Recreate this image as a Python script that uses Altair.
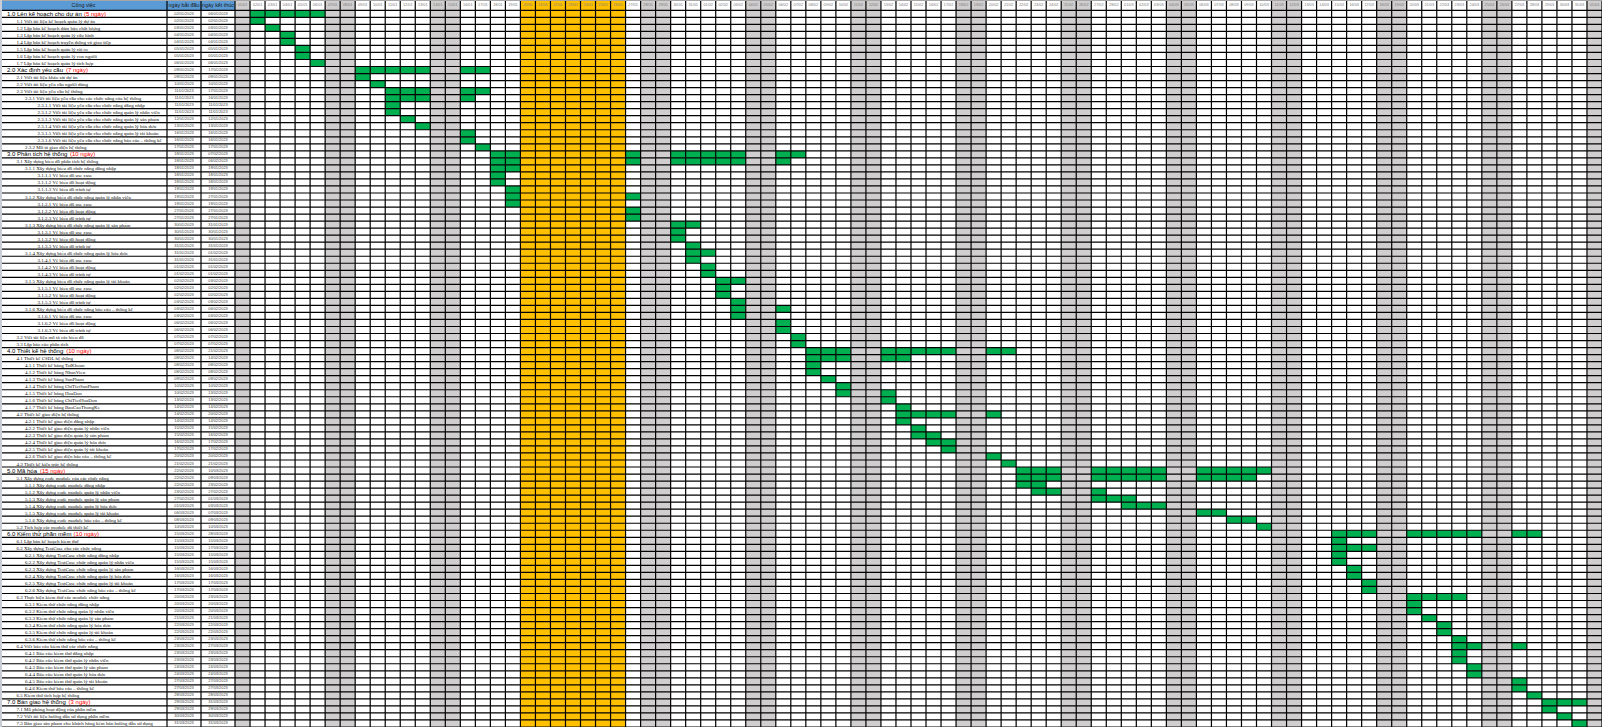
import altair as alt
import pandas as pd
import unicodedata
from datetime import date, timedelta

# ---------------- data ----------------
YEAR = 2023
first_day = "01/01"
n_days = 91
holiday_start = "20/01"
holiday_end = "26/01"

header_labels = ["Công việc", "ngày bắt đầu", "ngày kết thúc"]
phase_durations = ["(5 ngày)", "(7 ngày)", "(10 ngày)", "(10 ngày)", "(15 ngày)", "(10 ngày)", "(3 ngày)"]

phase1 = [
    ("1.0 Lên kế hoạch cho dự án", "02/01", "06/01"),
    ("1.1 Viết tài liệu kế hoạch quản lý dự án", "02/01", "02/01"),
    ("1.2 Lập bản kế hoạch đảm bảo chất lượng", "03/01", "03/01"),
    ("1.3 Lập bản kế hoạch quản lý cấu hình", "04/01", "04/01"),
    ("1.4 Lập bản kế hoạch truyền thông và giao tiếp", "04/01", "04/01"),
    ("1.5 Lập bản kế hoạch quản lý rủi ro", "05/01", "05/01"),
    ("1.6 Lập bản kế hoạch quản lý con người", "05/01", "05/01"),
    ("1.7 Lập bản kế hoạch quản lý tích hợp", "06/01", "06/01"),
]
phase2 = [
    ("2.0 Xác định yêu cầu", "09/01", "17/01"),
    ("2.1 Viết tài liệu khảo sát dự án", "09/01", "09/01"),
    ("2.2 Viết tài liệu yêu cầu người dùng", "10/01", "10/01"),
    ("2.3 Viết tài liệu yêu cầu hệ thống", "11/01", "17/01"),
    ("2.3.1 Viết tài liệu yêu cầu cho các chức năng của hệ thống", "11/01", "16/01"),
    ("2.3.1.1 Viết tài liệu yêu cầu cho chức năng đăng nhập", "11/01", "11/01"),
    ("2.3.1.2 Viết tài liệu yêu cầu cho chức năng quản lý nhân viên", "11/01", "11/01"),
    ("2.3.1.3 Viết tài liệu yêu cầu cho chức năng quản lý sản phẩm", "12/01", "12/01"),
    ("2.3.1.4 Viết tài liệu yêu cầu cho chức năng quản lý hóa đơn", "13/01", "13/01"),
    ("2.3.1.5 Viết tài liệu yêu cầu cho chức năng quản lý tài khoản", "16/01", "16/01"),
    ("2.3.1.6 Viết tài liệu yêu cầu cho chức năng báo cáo – thống kê", "16/01", "16/01"),
    ("2.3.2 Mô tả giao diện hệ thống", "17/01", "17/01"),
]
phase3 = [
    ("3.0 Phân tích hệ thống", "18/01", "07/02"),
    ("3.1 Xây dựng biểu đồ phân tích hệ thống", "18/01", "06/02"),
    ("3.1.1 Xây dựng biểu đồ chức năng đăng nhập", "18/01", "19/01"),
    ("3.1.1.1 Vẽ biểu đồ use case", "18/01", "18/01"),
    ("3.1.1.2 Vẽ biểu đồ hoạt động", "18/01", "18/01"),
    ("3.1.1.3 Vẽ biểu đồ trình tự", "19/01", "19/01"),
    ("3.1.2 Xây dựng biểu đồ chức năng quản lý nhân viên", "19/01", "27/01"),
    ("3.1.2.1 Vẽ biểu đồ use case", "19/01", "19/01"),
    ("3.1.2.2 Vẽ biểu đồ hoạt động", "27/01", "27/01"),
    ("3.1.2.3 Vẽ biểu đồ trình tự", "27/01", "27/01"),
    ("3.1.3 Xây dựng biểu đồ chức năng quản lý sản phẩm", "30/01", "31/01"),
    ("3.1.3.1 Vẽ biểu đồ use case", "30/01", "30/01"),
    ("3.1.3.2 Vẽ biểu đồ hoạt động", "30/01", "30/01"),
    ("3.1.3.3 Vẽ biểu đồ trình tự", "31/01", "31/01"),
    ("3.1.4 Xây dựng biểu đồ chức năng quản lý hóa đơn", "31/01", "01/02"),
    ("3.1.4.1 Vẽ biểu đồ use case", "31/01", "31/01"),
    ("3.1.4.2 Vẽ biểu đồ hoạt động", "01/02", "01/02"),
    ("3.1.4.3 Vẽ biểu đồ trình tự", "01/02", "01/02"),
    ("3.1.5 Xây dựng biểu đồ chức năng quản lý tài khoản", "02/02", "03/02"),
    ("3.1.5.1 Vẽ biểu đồ use case", "02/02", "02/02"),
    ("3.1.5.2 Vẽ biểu đồ hoạt động", "02/02", "02/02"),
    ("3.1.5.3 Vẽ biểu đồ trình tự", "03/02", "03/02"),
    ("3.1.6 Xây dựng biểu đồ chức năng báo cáo – thống kê", "03/02", "06/02"),
    ("3.1.6.1 Vẽ biểu đồ use case", "03/02", "03/02"),
    ("3.1.6.2 Vẽ biểu đồ hoạt động", "06/02", "06/02"),
    ("3.1.6.3 Vẽ biểu đồ trình tự", "06/02", "06/02"),
    ("3.2 Viết tài liệu mô tả các biểu đồ", "07/02", "07/02"),
    ("3.3 Lập báo cáo phân tích", "07/02", "07/02"),
]
phase4 = [
    ("4.0 Thiết kế hệ thống", "08/02", "21/02"),
    ("4.1 Thiết kế CSDL hệ thống", "08/02", "14/02"),
    ("4.1.1 Thiết kế bảng TaiKhoan", "08/02", "08/02"),
    ("4.1.2 Thiết kế bảng NhanVien", "08/02", "08/02"),
    ("4.1.3 Thiết kế bảng SanPham", "09/02", "09/02"),
    ("4.1.4 Thiết kế bảng ChiTietSanPham", "10/02", "10/02"),
    ("4.1.5 Thiết kế bảng HoaDon", "10/02", "13/02"),
    ("4.1.6 Thiết kế bảng ChiTietHoaDon", "13/02", "13/02"),
    ("4.1.7 Thiết kế bảng BaoCaoThongKe", "14/02", "14/02"),
    ("4.2 Thiết kế giao diện hệ thống", "14/02", "20/02"),
    ("4.2.1 Thiết kế giao diện đăng nhập", "14/02", "14/02"),
    ("4.2.2 Thiết kế giao diện quản lý nhân viên", "15/02", "15/02"),
    ("4.2.3 Thiết kế giao diện quản lý sản phẩm", "15/02", "16/02"),
    ("4.2.4 Thiết kế giao diện quản lý hóa đơn", "16/02", "17/02"),
    ("4.2.5 Thiết kế giao diện quản lý tài khoản", "17/02", "17/02"),
    ("4.2.6 Thiết kế giao diện báo cáo – thống kê", "20/02", "20/02"),
    ("4.3 Thiết kế kiến trúc hệ thống", "21/02", "21/02"),
]
phase5 = [
    ("5.0 Mã hóa", "22/02", "10/03"),
    ("5.1 Xây dựng code module của các chức năng", "22/02", "09/03"),
    ("5.1.1 Xây dựng code module đăng nhập", "22/02", "23/02"),
    ("5.1.2 Xây dựng code module quản lý nhân viên", "23/02", "27/02"),
    ("5.1.3 Xây dựng code module quản lý sản phẩm", "27/02", "01/03"),
    ("5.1.4 Xây dựng code module quản lý hóa đơn", "01/03", "03/03"),
    ("5.1.5 Xây dựng code module quản lý tài khoản", "06/03", "07/03"),
    ("5.1.6 Xây dựng code module báo cáo – thống kê", "08/03", "09/03"),
    ("5.2 Tích hợp các module đã thiết kế", "10/03", "10/03"),
]
phase6 = [
    ("6.0 Kiểm thử phần mềm", "15/03", "28/03"),
    ("6.1 Lập bản kế hoạch kiểm thử", "15/03", "15/03"),
    ("6.2 Xây dựng TestCase cho các chức năng", "15/03", "17/03"),
    ("6.2.1 Xây dựng TestCase chức năng đăng nhập", "15/03", "15/03"),
    ("6.2.2 Xây dựng TestCase chức năng quản lý nhân viên", "15/03", "15/03"),
    ("6.2.3 Xây dựng TestCase chức năng quản lý sản phẩm", "16/03", "16/03"),
    ("6.2.4 Xây dựng TestCase chức năng quản lý hóa đơn", "16/03", "16/03"),
    ("6.2.5 Xây dựng TestCase chức năng quản lý tài khoản", "17/03", "17/03"),
    ("6.2.6 Xây dựng TestCase chức năng báo cáo – thống kê", "17/03", "17/03"),
    ("6.3 Thực hiện kiểm thử các module chức năng", "20/03", "23/03"),
    ("6.3.1 Kiểm thử chức năng đăng nhập", "20/03", "20/03"),
    ("6.3.2 Kiểm thử chức năng quản lý nhân viên", "20/03", "20/03"),
    ("6.3.3 Kiểm thử chức năng quản lý sản phẩm", "21/03", "21/03"),
    ("6.3.4 Kiểm thử chức năng quản lý hóa đơn", "22/03", "22/03"),
    ("6.3.5 Kiểm thử chức năng quản lý tài khoản", "22/03", "22/03"),
    ("6.3.6 Kiểm thử chức năng báo cáo – thống kê", "23/03", "23/03"),
    ("6.4 Viết báo cáo kiểm thử các chức năng", "23/03", "27/03"),
    ("6.4.1 Báo cáo kiểm thử đăng nhập", "23/03", "23/03"),
    ("6.4.2 Báo cáo kiểm thử quản lý nhân viên", "23/03", "23/03"),
    ("6.4.3 Báo cáo kiểm thử quản lý sản phẩm", "24/03", "24/03"),
    ("6.4.4 Báo cáo kiểm thử quản lý hóa đơn", "24/03", "24/03"),
    ("6.4.5 Báo cáo kiểm thử quản lý tài khoản", "27/03", "27/03"),
    ("6.4.6 Kiểm thử báo cáo – thống kê", "27/03", "27/03"),
    ("6.5 Kiểm thử tích hợp hệ thống", "28/03", "28/03"),
]
phase7 = [
    ("7.0 Bàn giao hệ thống", "29/03", "31/03"),
    ("7.1 Mô phỏng hoạt động của phần mềm", "29/03", "29/03"),
    ("7.2 Viết tài liệu hướng dẫn sử dụng phần mềm", "30/03", "30/03"),
    ("7.3 Bàn giao sản phẩm cho khách hàng kèm bản hướng dẫn sử dụng", "31/03", "31/03"),
]

# ---------------- colours / layout ----------------
C_HEAD = "#5B9BD5"
C_WEEKEND = "#D0CECE"
C_TET = "#FFC000"
C_TASK = "#00B050"
W, H = 1602, 727
NAME_X1, START_X1, END_X1 = 167, 201, 235
DAY_W = (W - END_X1) / n_days
HEAD_H = 10.3
INDENT = {1: 7, 2: 16.5, 3: 25, 4: 37.5}
PHASE_FS = 6

tasks = phase1 + phase2 + phase3 + phase4 + phase5 + phase6 + phase7
ROW_H = (H - HEAD_H) / len(tasks)

# Arial / Liberation Sans advance widths (per 1000 em), used to place the red duration text
_AW = {" ": 278, ".": 278, "(": 333, ")": 333, "–": 556}
_AW.update({c: 556 for c in "0123456789"})
_AW.update(dict(zip("abcdefghijklmnopqrstuvwxyz",
                    [556, 556, 500, 556, 556, 278, 556, 556, 222, 222, 500, 222, 833,
                     556, 556, 556, 556, 333, 500, 278, 556, 500, 722, 500, 500, 500])))
_AW.update(dict(zip("ABCDEFGHIJKLMNOPQRSTUVWXYZ",
                    [667, 667, 722, 722, 667, 611, 778, 722, 278, 500, 667, 556, 833,
                     722, 778, 667, 778, 722, 667, 611, 722, 667, 944, 667, 667, 611])))


def text_width(s, fs):
    tot = 0
    for ch in s:
        base = unicodedata.normalize("NFD", ch)[0]
        if base in "đĐ":
            base = "d"
        tot += _AW.get(base, 556)
    return tot / 1000 * fs


def to_date(s):
    d, m = s.split("/")
    return date(YEAR, int(m), int(d))


day0 = to_date(first_day)
hol_s, hol_e = to_date(holiday_start), to_date(holiday_end)


def day_fill(d):
    if hol_s <= d <= hol_e:
        return C_TET
    if d.weekday() >= 5:
        return C_WEEKEND
    return "white"


# background day columns
cols = []
for k in range(n_days):
    d = day0 + timedelta(days=k)
    cols.append({"x0": END_X1 + k * DAY_W, "x1": END_X1 + (k + 1) * DAY_W,
                 "y0": 0, "y1": H, "fill": day_fill(d),
                 "xc": END_X1 + (k + 0.5) * DAY_W, "yc": HEAD_H / 2,
                 "label": d.strftime("%d/%m")})
cols_df = pd.DataFrame(cols)

head_df = pd.DataFrame({
    "x0": [0, NAME_X1, START_X1], "x1": [NAME_X1, START_X1, END_X1],
    "y0": [0, 0, 0], "y1": [HEAD_H] * 3, "fill": [C_HEAD] * 3,
    "xc": [NAME_X1 / 2, (NAME_X1 + START_X1) / 2, (START_X1 + END_X1) / 2],
    "yc": [HEAD_H / 2] * 3, "label": header_labels,
})

# task rows
rows, cells = [], []
phase_i = 0
for i, (name, s, e) in enumerate(tasks):
    code = name.split(" ")[0]
    parts = code.split(".")
    level = 1 if (len(parts) == 2 and parts[1] == "0") else len(parts)
    yc = HEAD_H + (i + 0.5) * ROW_H
    dur, xr = "", 0.0
    if level == 1:
        dur = phase_durations[phase_i]
        phase_i += 1
        xr = INDENT[1] + text_width(name + " ", PHASE_FS) + 1.2
    rows.append({"name": name, "dur": dur, "xr": xr, "level": level,
                 "x": INDENT[level], "yc": yc,
                 "start": s + "/" + str(YEAR), "end": e + "/" + str(YEAR),
                 "xs": (NAME_X1 + START_X1) / 2, "xe": (START_X1 + END_X1) / 2})
    ds, de = to_date(s), to_date(e)
    d = ds
    while d <= de:
        if day_fill(d) == "white":
            k = (d - day0).days
            cells.append({"x0": END_X1 + k * DAY_W, "x1": END_X1 + (k + 1) * DAY_W,
                          "y0": HEAD_H + i * ROW_H, "y1": HEAD_H + (i + 1) * ROW_H,
                          "fill": C_TASK})
        d += timedelta(days=1)
rows_df = pd.DataFrame(rows)
cells_df = pd.DataFrame(cells)

hlines = pd.DataFrame({"y": [HEAD_H + j * ROW_H for j in range(len(tasks) + 1)],
                       "x0": 0, "x1": W})
vx = [NAME_X1, START_X1, END_X1] + [END_X1 + k * DAY_W for k in range(1, n_days + 1)]
vlines = pd.DataFrame({"x": vx, "y0": 0, "y1": H})

# ---------------- chart ----------------
xs = alt.Scale(domain=[0, W], nice=False, zero=False)
ys = alt.Scale(domain=[0, H], nice=False, zero=False, reverse=True)


def rect_layer(df):
    return alt.Chart(df).mark_rect(strokeWidth=0).encode(
        x=alt.X("x0:Q", scale=xs, axis=None), x2="x1:Q",
        y=alt.Y("y0:Q", scale=ys, axis=None), y2="y1:Q",
        fill=alt.Fill("fill:N", scale=None))


bg = rect_layer(cols_df)
head = rect_layer(head_df)
green = rect_layer(cells_df)

hrule = alt.Chart(hlines).mark_rule(color="black", strokeWidth=1.2).encode(
    y=alt.Y("y:Q", scale=ys, axis=None),
    x=alt.X("x0:Q", scale=xs, axis=None), x2="x1:Q")
vrule = alt.Chart(vlines).mark_rule(color="black", strokeWidth=1.2).encode(
    x=alt.X("x:Q", scale=xs, axis=None),
    y=alt.Y("y0:Q", scale=ys, axis=None), y2="y1:Q")
top_rule = alt.Chart(pd.DataFrame({"y": [0.5]})).mark_rule(color="#a6a6a6", strokeWidth=1).encode(
    y=alt.Y("y:Q", scale=ys, axis=None), x=alt.value(0), x2=alt.value(W))
left_rule = alt.Chart(pd.DataFrame({"x": [1]})).mark_rule(color="#c9ced6", strokeWidth=2).encode(
    x=alt.X("x:Q", scale=xs, axis=None), y=alt.value(0), y2=alt.value(H))

head_text = alt.Chart(head_df).mark_text(
    font="Liberation Sans", fontSize=5.4, color="#1a1a1a", baseline="middle", align="center").encode(
    x=alt.X("xc:Q", scale=xs, axis=None), y=alt.Y("yc:Q", scale=ys, axis=None), text="label:N")

day_text = alt.Chart(cols_df).mark_text(
    font="Liberation Sans", fontSize=3.8, color="#7a7a7a", baseline="middle", align="center").encode(
    x=alt.X("xc:Q", scale=xs, axis=None), y=alt.Y("yc:Q", scale=ys, axis=None), text="label:N")

lvl1 = rows_df[rows_df.level == 1]
sub = rows_df[rows_df.level > 1]

phase_black = alt.Chart(lvl1).mark_text(
    font="Liberation Sans", fontSize=PHASE_FS, color="#000000", baseline="middle", align="left").encode(
    x=alt.X("x:Q", scale=xs, axis=None), y=alt.Y("yc:Q", scale=ys, axis=None), text="name:N")
phase_red = alt.Chart(lvl1).mark_text(
    font="Liberation Sans", fontSize=PHASE_FS, color="#FF0000", baseline="middle", align="left").encode(
    x=alt.X("xr:Q", scale=xs, axis=None), y=alt.Y("yc:Q", scale=ys, axis=None), text="dur:N")

sub_text = alt.Chart(sub).mark_text(
    font="Liberation Serif", fontSize=5, color="#111111", baseline="middle", align="left").encode(
    x=alt.X("x:Q", scale=xs, axis=None), y=alt.Y("yc:Q", scale=ys, axis=None), text="name:N")

start_text = alt.Chart(rows_df).mark_text(
    font="Liberation Sans", fontSize=3.9, color="#404040", baseline="middle", align="center").encode(
    x=alt.X("xs:Q", scale=xs, axis=None), y=alt.Y("yc:Q", scale=ys, axis=None), text="start:N")
end_text = alt.Chart(rows_df).mark_text(
    font="Liberation Sans", fontSize=3.9, color="#404040", baseline="middle", align="center").encode(
    x=alt.X("xe:Q", scale=xs, axis=None), y=alt.Y("yc:Q", scale=ys, axis=None), text="end:N")

chart = alt.layer(
    bg, head, green, hrule, vrule, top_rule, left_rule,
    head_text, day_text, phase_black, phase_red, sub_text, start_text, end_text
).properties(
    width=W, height=H, padding=0, autosize=alt.AutoSizeParams(type="none"),
    background="white"
).configure_view(stroke=None)

chart.save("out.html", embed_options={"renderer": "svg", "actions": False})
